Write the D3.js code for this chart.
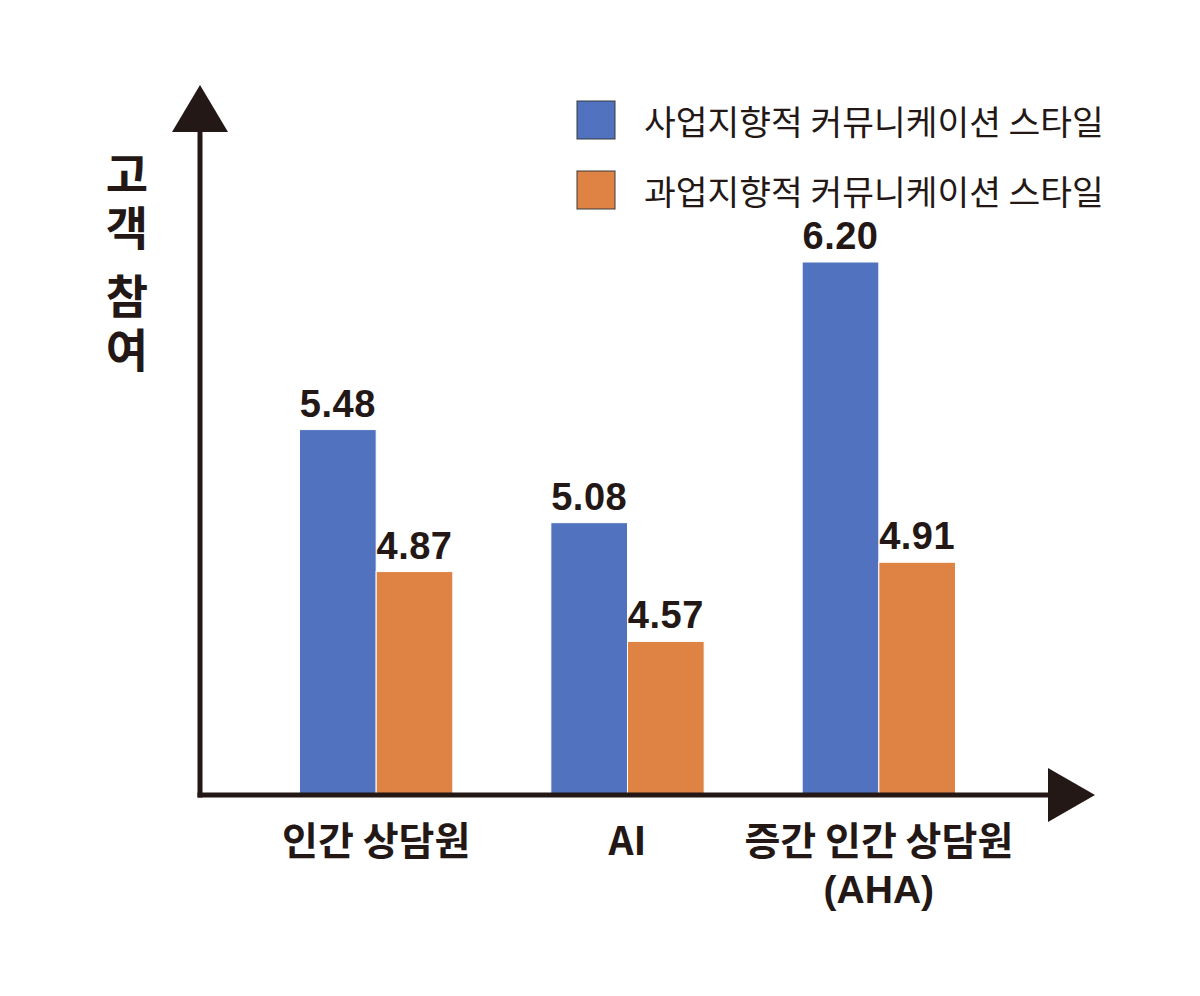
<!DOCTYPE html>
<html>
<head>
<meta charset="utf-8">
<script src="https://cdn.jsdelivr.net/npm/d3@7"></script>
<style>
  html, body { margin: 0; padding: 0; background: #fff; }
  svg { display: block; }
  text { font-family: "Noto Sans CJK KR", "Noto Sans", sans-serif; fill: #231815; }
</style>
</head>
<body>
<svg id="chart" width="1200" height="996"></svg>
<script>
// --- data ---
const categories = ["인간 상담원", "AI", "증간 인간 상담원\n(AHA)"];
const seriesNames = ["사업지향적 커뮤니케이션 스타일", "과업지향적 커뮤니케이션 스타일"];
const businessValues = [5.48, 5.08, 6.20];
const taskValues = [4.87, 4.57, 4.91];
const yTitle = "고객 참여";

const colors = ["#5072BF", "#DF8344"];
const ink = "#231815";

const svg = d3.select("#chart");

// axis frame
const originX = 200, originY = 795;
const axisTopY = 85, axisRightX = 1095;

// scales
const x = d3.scaleBand()
    .domain(categories)
    .range([250.5, 1004.5])
    .paddingInner(0.39)
    .paddingOuter(0.195);

const xSub = d3.scaleBand()
    .domain(seriesNames)
    .range([0, x.bandwidth()]);

// bars are schematic in the source, a linear fit keeps the order
const y = d3.scaleLinear()
    .domain([3.91, 6.20])
    .range([originY, 262]);

const rows = categories.map((c, i) => ({
    cat: c,
    vals: [businessValues[i], taskValues[i]]
}));

// bars
const groups = svg.append("g").selectAll("g")
    .data(rows)
    .enter().append("g")
    .attr("transform", d => `translate(${x(d.cat)},0)`);

groups.selectAll("rect")
    .data(d => d.vals.map((v, j) => ({ v, s: seriesNames[j], j })))
    .enter().append("rect")
    .attr("x", d => xSub(d.s))
    .attr("y", d => y(d.v))
    .attr("width", xSub.bandwidth())
    .attr("height", d => originY - y(d.v))
    .attr("fill", d => colors[d.j])
    .attr("stroke", "#fff")
    .attr("stroke-width", 1);

groups.selectAll("text.val")
    .data(d => d.vals.map((v, j) => ({ v, s: seriesNames[j], j })))
    .enter().append("text")
    .attr("class", "val")
    .attr("x", d => xSub(d.s) + xSub.bandwidth() / 2)
    .attr("y", d => y(d.v) - 13)
    .attr("text-anchor", "middle")
    .style("font-family", "'Liberation Sans', Arial, sans-serif")
    .style("font-weight", 700)
    .style("font-size", "38px")
    .style("letter-spacing", "0.5px")
    .text(d => d.v.toFixed(2));

// axes
svg.append("line")
    .attr("x1", originX).attr("y1", originY + 2.5)
    .attr("x2", originX).attr("y2", 130)
    .attr("stroke", ink).attr("stroke-width", 5);

svg.append("line")
    .attr("x1", originX - 2.5).attr("y1", originY)
    .attr("x2", 1050).attr("y2", originY)
    .attr("stroke", ink).attr("stroke-width", 5);

svg.append("path")
    .attr("d", `M${originX - 28},132 L${originX + 28},132 L${originX},${axisTopY} Z`)
    .attr("fill", ink);

svg.append("path")
    .attr("d", `M1048,${originY - 27} L1048,${originY + 27} L${axisRightX},${originY} Z`)
    .attr("fill", ink);

// category labels (second line is latin only, so a tighter font)
svg.append("g").selectAll("text")
    .data(categories)
    .enter().append("text")
    .attr("x", d => x(d) + x.bandwidth() / 2)
    .attr("y", 855)
    .attr("text-anchor", "middle")
    .style("font-weight", 700)
    .style("font-size", "39px")
    .each(function(d) {
        const lines = d.split("\n");
        d3.select(this).selectAll("tspan")
            .data(lines)
            .enter().append("tspan")
            .attr("x", x(d) + x.bandwidth() / 2)
            .attr("dy", (l, i) => i === 0 ? 0 : 48)
            .style("font-family", (l, i) => i === 0 ? null : "'Liberation Sans', sans-serif")
            .text(l => l);
    });

// y title, vertical
svg.append("text")
    .attr("x", 127)
    .attr("y", 151)
    .style("writing-mode", "vertical-rl")
    .style("text-orientation", "upright")
    .style("font-weight", 700)
    .style("font-size", "46px")
    .style("letter-spacing", "8px")
    .style("word-spacing", "-40px")
    .text(yTitle);

// legend
const legend = svg.append("g").selectAll("g")
    .data(seriesNames)
    .enter().append("g")
    .attr("transform", (d, i) => `translate(577,${101 + i * 70})`);

legend.append("rect")
    .attr("width", 38).attr("height", 38)
    .attr("fill", (d, i) => colors[i])
    .attr("stroke", "#3a3a3a").attr("stroke-width", 1);

legend.append("text")
    .attr("x", 67)
    .attr("y", 19)
    .attr("dominant-baseline", "central")
    .style("font-size", "34.5px")
    .text(d => d);
</script>
</body>
</html>
